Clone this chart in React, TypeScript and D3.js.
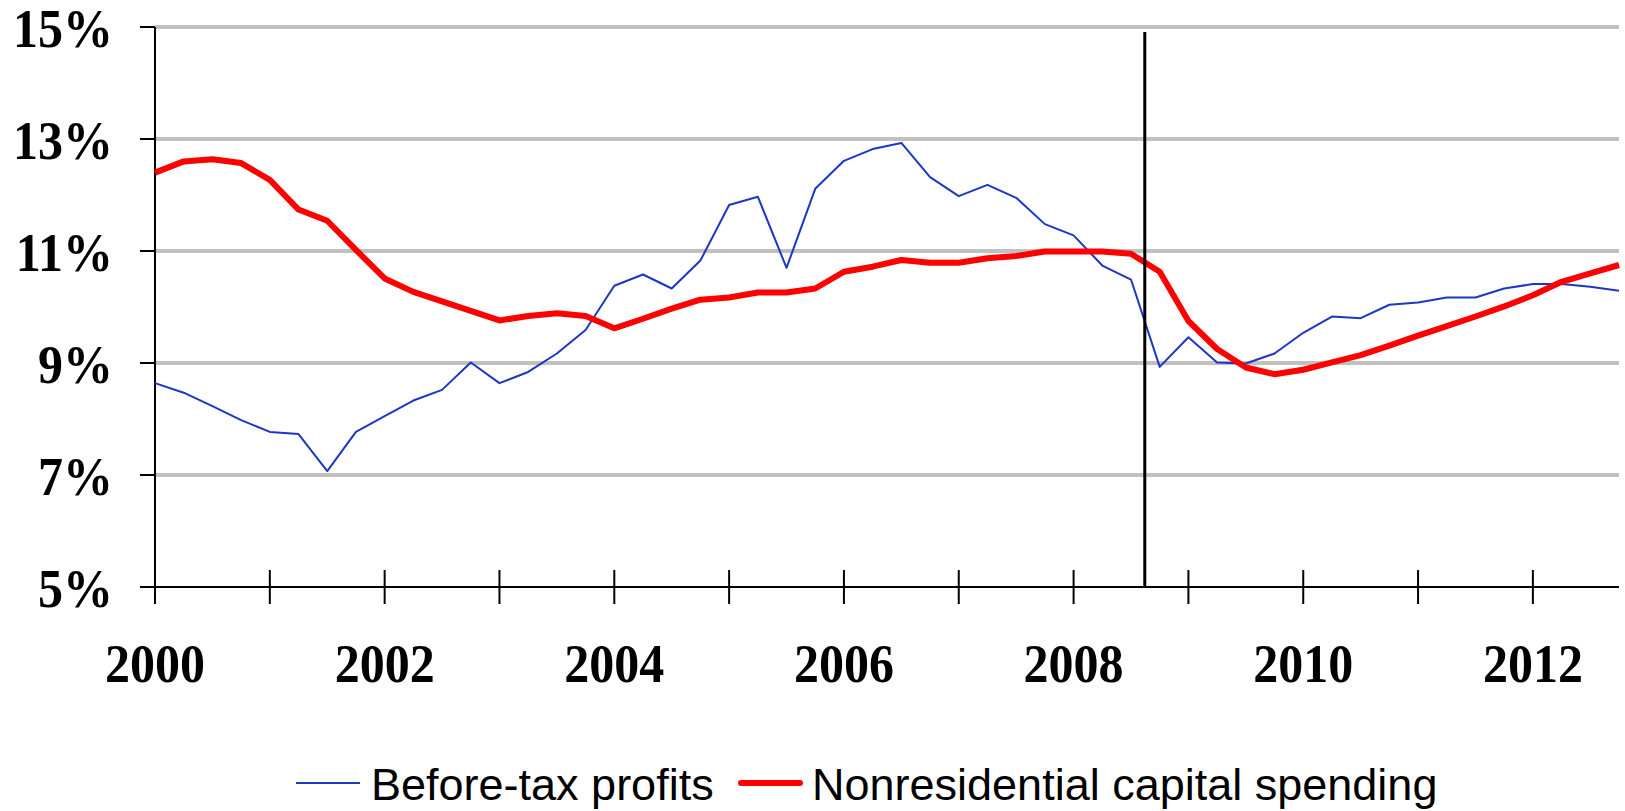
import React from "react";
import * as d3 from "d3";

// quarterly, 2000Q1 .. 2012Q4, share in %
const profits = [
  8.64, 8.47, 8.23, 7.98, 7.77, 7.73, 7.07, 7.77, 8.05, 8.33,
  8.52, 9.01, 8.64, 8.84, 9.17, 9.59, 10.38, 10.58, 10.33, 10.83,
  11.82, 11.97, 10.7, 12.11, 12.61, 12.82, 12.93, 12.32, 11.98, 12.18,
  11.95, 11.48, 11.28, 10.74, 10.49, 8.93, 9.46, 9.01, 8.99, 9.17,
  9.54, 9.83, 9.8, 10.04, 10.08, 10.17, 10.17, 10.33, 10.41, 10.41,
  10.36, 10.29,
];
const capex = [
  12.4, 12.6, 12.64, 12.57, 12.27, 11.74, 11.54, 11.02, 10.51, 10.27,
  10.1, 9.93, 9.76, 9.84, 9.89, 9.84, 9.62, 9.79, 9.97, 10.13,
  10.17, 10.26, 10.26, 10.33, 10.63, 10.72, 10.84, 10.79, 10.79, 10.87,
  10.91, 10.99, 10.99, 10.99, 10.95, 10.63, 9.75, 9.25, 8.92, 8.8,
  8.88, 9.01, 9.14, 9.31, 9.49, 9.66, 9.83, 10.01, 10.21, 10.45,
  10.6, 10.75,
];
const startYear = 2000;
const yTicks = [5, 7, 9, 11, 13, 15];
const yearTicks = d3.range(2000, 2013);
const yearLabels = [2000, 2002, 2004, 2006, 2008, 2010, 2012];
const crisisMark = 2008.62;
const seriesNames = ["Before-tax profits", "Nonresidential capital spending"];

const W = 1625;
const H = 811;

const App = () => {
  const x = d3.scaleLinear().domain([2000, 2012.75]).range([155, 1619]);
  const y = d3.scaleLinear().domain([5, 15]).range([587, 27]);

  const toPoints = (vals: number[]) =>
    vals.map((v, i) => ({ t: startYear + i * 0.25, v }));

  const line = d3
    .line<{ t: number; v: number }>()
    .x((d) => x(d.t))
    .y((d) => y(d.v));

  const serif = "'Liberation Serif', 'Times New Roman', serif";
  const sans = "'Liberation Sans', Arial, sans-serif";

  return (
    <svg
      width={W}
      height={H}
      style={{ position: "absolute", left: 0, top: 0, background: "#fff" }}
    >
      {/* gridlines */}
      {yTicks
        .filter((t) => t > 5)
        .map((t) => (
          <line
            key={"g" + t}
            x1={x(2000)}
            x2={x(2012.75)}
            y1={y(t)}
            y2={y(t)}
            stroke="#c0c0c0"
            strokeWidth={4}
          />
        ))}

      {/* y axis */}
      <line x1={155} x2={155} y1={y(15)} y2={y(5)} stroke="#000" strokeWidth={2} />
      {yTicks.map((t) => (
        <g key={"y" + t}>
          <line x1={140} x2={155} y1={y(t)} y2={y(t)} stroke="#000" strokeWidth={2} />
          <text
            transform={`translate(113,${y(t)}) scale(1,1.1)`}
            dy="0.36em"
            textAnchor="end"
            fontFamily={serif}
            fontWeight="bold"
            fontSize={50}
          >
            {t}%
          </text>
        </g>
      ))}

      {/* x axis */}
      <line x1={140} x2={x(2012.75)} y1={y(5)} y2={y(5)} stroke="#000" strokeWidth={2} />
      {yearTicks.map((yr) => (
        <line
          key={"xt" + yr}
          x1={x(yr)}
          x2={x(yr)}
          y1={y(5) - 17}
          y2={y(5) + 17}
          stroke="#000"
          strokeWidth={2}
        />
      ))}
      {yearLabels.map((yr) => (
        <text
          key={"xl" + yr}
          transform={`translate(${x(yr)},682) scale(1,1.1)`}
          textAnchor="middle"
          fontFamily={serif}
          fontWeight="bold"
          fontSize={50}
        >
          {yr}
        </text>
      ))}

      {/* series */}
      <path
        d={line(toPoints(profits)) || ""}
        fill="none"
        stroke="#1f35c4"
        strokeWidth={2}
        strokeLinejoin="round"
      />
      <path
        d={line(toPoints(capex)) || ""}
        fill="none"
        stroke="#ff0000"
        strokeWidth={6}
        strokeLinejoin="round"
      />

      {/* recession / crisis marker */}
      <line
        x1={x(crisisMark)}
        x2={x(crisisMark)}
        y1={32}
        y2={y(5)}
        stroke="#000"
        strokeWidth={3}
      />

      {/* legend */}
      <line x1={296} x2={360} y1={783} y2={783} stroke="#1f35c4" strokeWidth={2} />
      <text x={371} y={800} fontFamily={sans} fontSize={45}>
        {seriesNames[0]}
      </text>
      <line
        x1={741}
        x2={800}
        y1={783}
        y2={783}
        stroke="#ff0000"
        strokeWidth={6}
        strokeLinecap="round"
      />
      <text x={812} y={800} fontFamily={sans} fontSize={45}>
        {seriesNames[1]}
      </text>
    </svg>
  );
};

export default App;
